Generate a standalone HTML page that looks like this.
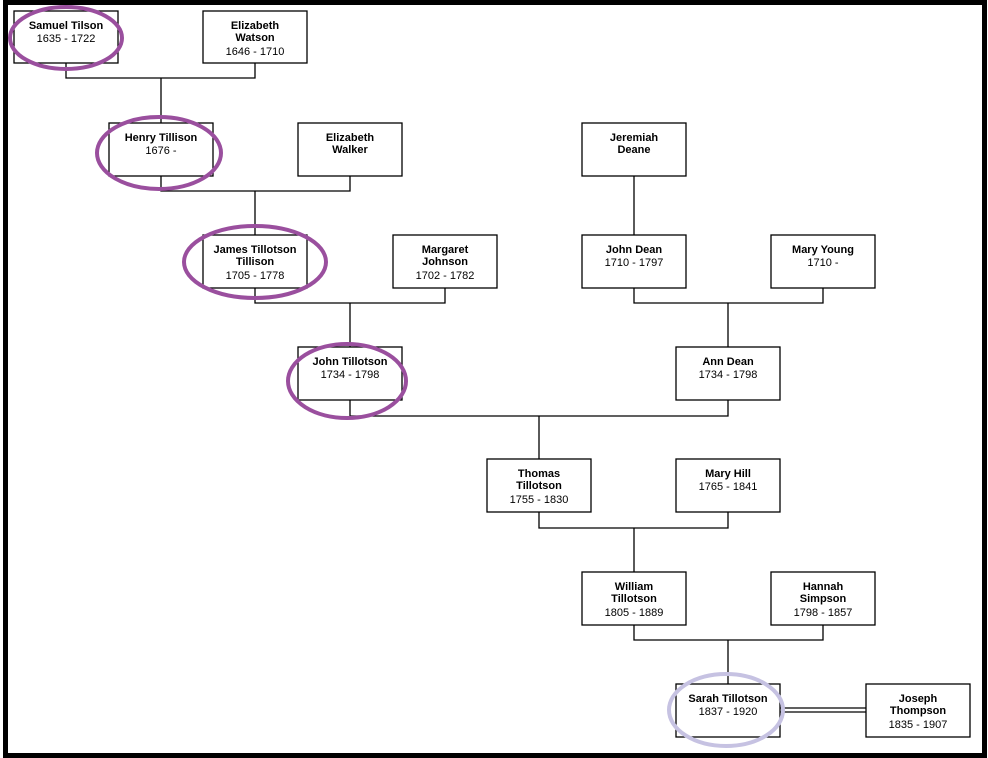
<!DOCTYPE html>
<html><head><style>
html,body{margin:0;padding:0;background:#fff}
svg{display:block}
text{font-family:"Liberation Sans",Arial,sans-serif;font-size:11px;fill:#000;text-anchor:middle}
.b{font-weight:bold}
</style></head><body>
<svg width="988" height="758" viewBox="0 0 988 758" xmlns="http://www.w3.org/2000/svg">
<rect x="0" y="0" width="988" height="758" fill="#fff"/>
<rect x="5.5" y="2.5" width="979" height="753" fill="none" stroke="#000" stroke-width="5"/>
<g stroke="#000" stroke-width="1.3" fill="none">
<polyline points="66,63 66,78 255,78 255,63"/><line x1="161" y1="78" x2="161" y2="123"/>
<polyline points="161,176 161,191 350,191 350,176"/><line x1="255" y1="191" x2="255" y2="235"/>
<polyline points="255,288 255,303 445,303 445,288"/><line x1="350" y1="303" x2="350" y2="347"/>
<line x1="634" y1="176" x2="634" y2="235"/>
<polyline points="634,288 634,303 823,303 823,288"/><line x1="728" y1="303" x2="728" y2="347"/>
<polyline points="350,400 350,416 728,416 728,400"/><line x1="539" y1="416" x2="539" y2="459"/>
<polyline points="539,512 539,528 728,528 728,512"/><line x1="634" y1="528" x2="634" y2="572"/>
<polyline points="634,625 634,640 823,640 823,625"/><line x1="728" y1="640" x2="728" y2="684"/>
<line x1="780" y1="708" x2="866" y2="708"/><line x1="780" y1="712" x2="866" y2="712"/>
</g>
<g fill="#fff" stroke="#000" stroke-width="1.3">
<rect x="14" y="11" width="104" height="52"/>
<rect x="203" y="11" width="104" height="52"/>
<rect x="109" y="123" width="104" height="53"/>
<rect x="298" y="123" width="104" height="53"/>
<rect x="582" y="123" width="104" height="53"/>
<rect x="203" y="235" width="104" height="53"/>
<rect x="393" y="235" width="104" height="53"/>
<rect x="582" y="235" width="104" height="53"/>
<rect x="771" y="235" width="104" height="53"/>
<rect x="298" y="347" width="104" height="53"/>
<rect x="676" y="347" width="104" height="53"/>
<rect x="487" y="459" width="104" height="53"/>
<rect x="676" y="459" width="104" height="53"/>
<rect x="582" y="572" width="104" height="53"/>
<rect x="771" y="572" width="104" height="53"/>
<rect x="676" y="684" width="104" height="53"/>
<rect x="866" y="684" width="104" height="53"/>
</g>
<text x="66" y="29" class="b">Samuel Tilson</text><text x="66" y="42">1635 - 1722</text>
<text x="255" y="29" class="b">Elizabeth</text><text x="255" y="41" class="b">Watson</text><text x="255" y="55">1646 - 1710</text>
<text x="161" y="141" class="b">Henry Tillison</text><text x="161" y="154">1676 -</text>
<text x="350" y="141" class="b">Elizabeth</text><text x="350" y="153" class="b">Walker</text>
<text x="634" y="141" class="b">Jeremiah</text><text x="634" y="153" class="b">Deane</text>
<text x="255" y="253" class="b">James Tillotson</text><text x="255" y="265" class="b">Tillison</text><text x="255" y="279">1705 - 1778</text>
<text x="445" y="253" class="b">Margaret</text><text x="445" y="265" class="b">Johnson</text><text x="445" y="279">1702 - 1782</text>
<text x="634" y="253" class="b">John Dean</text><text x="634" y="266">1710 - 1797</text>
<text x="823" y="253" class="b">Mary Young</text><text x="823" y="266">1710 -</text>
<text x="350" y="365" class="b">John Tillotson</text><text x="350" y="378">1734 - 1798</text>
<text x="728" y="365" class="b">Ann Dean</text><text x="728" y="378">1734 - 1798</text>
<text x="539" y="477" class="b">Thomas</text><text x="539" y="489" class="b">Tillotson</text><text x="539" y="503">1755 - 1830</text>
<text x="728" y="477" class="b">Mary Hill</text><text x="728" y="490">1765 - 1841</text>
<text x="634" y="590" class="b">William</text><text x="634" y="602" class="b">Tillotson</text><text x="634" y="616">1805 - 1889</text>
<text x="823" y="590" class="b">Hannah</text><text x="823" y="602" class="b">Simpson</text><text x="823" y="616">1798 - 1857</text>
<text x="728" y="702" class="b">Sarah Tillotson</text><text x="728" y="715">1837 - 1920</text>
<text x="918" y="702" class="b">Joseph</text><text x="918" y="714" class="b">Thompson</text><text x="918" y="728">1835 - 1907</text>
<g fill="none" stroke-width="4">
<ellipse cx="66" cy="38" rx="56" ry="31" stroke="#9a4f9e"/>
<ellipse cx="159" cy="153" rx="62" ry="36" stroke="#9a4f9e"/>
<ellipse cx="255" cy="262" rx="71" ry="36" stroke="#9a4f9e"/>
<ellipse cx="347" cy="381" rx="59" ry="37" stroke="#9a4f9e"/>
<ellipse cx="726" cy="710" rx="57" ry="36" stroke="#c6c2e2"/>
</g>
</svg>
</body></html>
